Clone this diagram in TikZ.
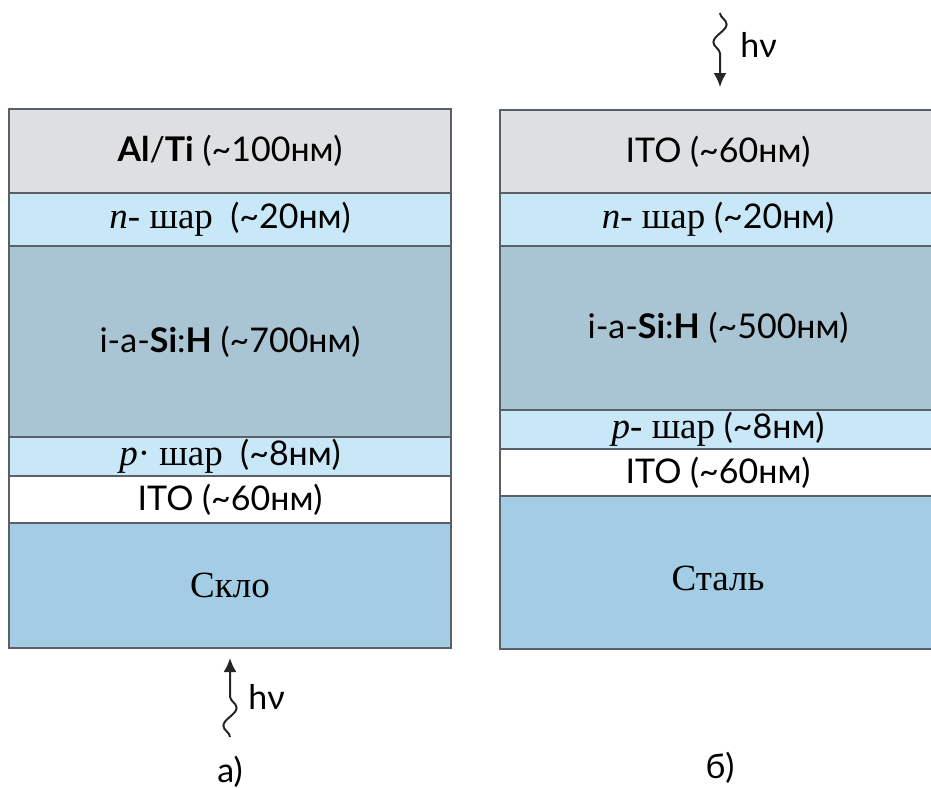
\documentclass[tikz,border=0pt]{standalone}
\usepackage{fontspec}
\setmainfont{Liberation Serif}
\setsansfont{Lato}
\usetikzlibrary{arrows.meta,positioning,decorations.pathmorphing}
\definecolor{cellgray}{HTML}{DDDFE1}
\definecolor{celldoped}{HTML}{C8E8F8}
\definecolor{cellintr}{HTML}{A9C4D3}
\definecolor{cellsub}{HTML}{A3CDE4}
\definecolor{cellline}{HTML}{5A6068}
\newcommand{\ukr}[1]{{\rmfamily\fontsize{18.5}{20}\selectfont #1}}
\tikzset{
  layer/.style={rectangle,draw=cellline,line width=1pt,outer sep=0pt,inner sep=0pt,align=center,font=\sffamily\fontsize{17}{19}\selectfont},
  leftlayer/.style={layer,minimum width=221pt},
  rightlayer/.style={layer,minimum width=218pt},
  tag/.style={inner sep=0pt,font=\sffamily\fontsize{17}{19}\selectfont},
  photon/.style={-{Latex[length=7pt,width=6.5pt]},line width=1pt,draw=black!85,decorate,decoration={snake,amplitude=3.3pt,segment length=18pt,post length=12pt}}
}
\begin{document}
\begin{tikzpicture}[x=0.5pt,y=-0.5pt]
\useasboundingbox (0,0) rectangle (931,787);
\node[leftlayer,fill=cellgray,minimum height=42pt,anchor=north] (a-metal) at (230,109) {\textbf{Al}/\textbf{Ti} (\textasciitilde100нм)};
\node[leftlayer,fill=celldoped,minimum height=26.5pt,below=0pt of a-metal] (a-n) {\ukr{\textit{n}- шар}\ \ (\textasciitilde20нм)};
\node[leftlayer,fill=cellintr,minimum height=95.5pt,below=0pt of a-n] (a-i) {i-a-\textbf{Si}:\textbf{H} (\textasciitilde700нм)};
\node[leftlayer,fill=celldoped,minimum height=19.5pt,below=0pt of a-i] (a-p) {\ukr{\textit{p}· шар}\ \ (\textasciitilde8нм)};
\node[leftlayer,fill=white,minimum height=23.5pt,below=0pt of a-p] (a-ito) {ITO (\textasciitilde60нм)};
\node[leftlayer,fill=cellsub,minimum height=62.5pt,below=0pt of a-ito] (a-glass) {\ukr{Скло}};
\node[rightlayer,fill=cellgray,minimum height=41.5pt,anchor=north] (b-ito) at (718,110) {ITO (\textasciitilde60нм)};
\node[rightlayer,fill=celldoped,minimum height=26.5pt,below=0pt of b-ito] (b-n) {\ukr{\textit{n}- шар} (\textasciitilde20нм)};
\node[rightlayer,fill=cellintr,minimum height=82pt,below=0pt of b-n] (b-i) {i-a-\textbf{Si}:\textbf{H} (\textasciitilde500нм)};
\node[rightlayer,fill=celldoped,minimum height=19.5pt,below=0pt of b-i] (b-p) {\ukr{\textit{p}- шар} (\textasciitilde8нм)};
\node[rightlayer,fill=white,minimum height=23.5pt,below=0pt of b-p] (b-ito2) {ITO (\textasciitilde60нм)};
\node[rightlayer,fill=cellsub,minimum height=76.5pt,below=0pt of b-ito2] (b-steel) {\raisebox{-9pt}[0pt][0pt]{\ukr{Сталь}}};
\coordinate (a-hv-from) at (230,737);
\coordinate (a-hv-to) at (230,658);
\coordinate (b-hv-from) at (720,13);
\coordinate (b-hv-to) at (720,87);
\draw[photon] (a-hv-from) -- (a-hv-to);
\draw[photon] (b-hv-from) -- (b-hv-to);
\node[tag,anchor=west] (a-hv) at (248,697) {hν};
\node[tag,anchor=west] (b-hv) at (740,45) {hν};
\node[tag] (a-cap) at (230,772) {а)};
\node[tag] (b-cap) at (720,768) {б)};
\end{tikzpicture}
\end{document}
